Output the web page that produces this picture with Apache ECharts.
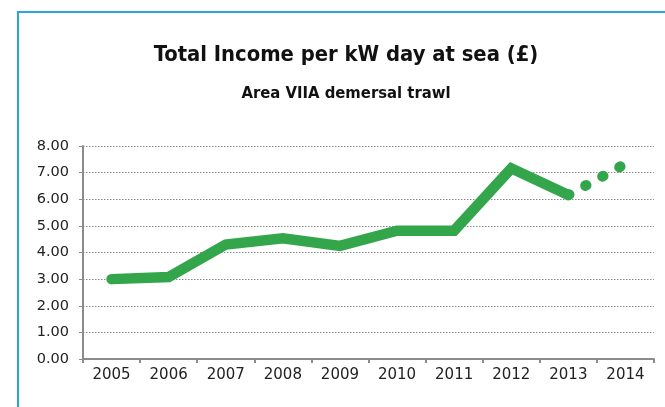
<!DOCTYPE html>
<html>
<head>
<meta charset="utf-8">
<script src="https://cdn.jsdelivr.net/npm/echarts@6/dist/echarts.min.js"></script>
<style>
  html, body { margin: 0; padding: 0; background: #fff; }
  #chart { width: 665px; height: 407px; }
</style>
</head>
<body>
<div id="chart"></div>
<script>
// data
const years = ['2005', '2006', '2007', '2008', '2009', '2010', '2011', '2012', '2013', '2014'];
const income = [3.00, 3.08, 4.30, 4.53, 4.25, 4.82, 4.82, 7.16, 6.16, null];
// 2014 is drawn as a dotted continuation from 2013
const forecast = [null, null, null, null, null, null, null, null, 6.16, 7.33];
const yTicks = [0, 1, 2, 3, 4, 5, 6, 7, 8];

const green = '#33a64c';
const gray = '#8c8c8c';
const labelFont = 'DejaVu Sans';
const titleFont = '"DejaVu Sans Condensed", Roboto, sans-serif';

const chart = echarts.init(document.getElementById('chart'), null, { renderer: 'canvas' });

chart.setOption({
  animation: false,
  graphic: [
    {
      type: 'rect',
      shape: { x: 18, y: 12, width: 700, height: 500 },
      style: { fill: 'none', stroke: '#2aa7d4', lineWidth: 2 },
      silent: true
    },
    // titles are centred on the framed box, not the whole canvas
    {
      type: 'text',
      x: 346, y: 44,
      style: {
        text: 'Total Income per kW day at sea (£)',
        align: 'center', verticalAlign: 'top',
        font: 'bold 21.8px ' + titleFont, fill: '#111'
      }
    },
    {
      type: 'text',
      x: 346, y: 85,
      style: {
        text: 'Area VIIA demersal trawl',
        align: 'center', verticalAlign: 'top',
        font: 'bold 16.5px ' + titleFont, fill: '#111'
      }
    }
  ],
  grid: { left: 83, right: 11, top: 146, bottom: 48, containLabel: false },
  xAxis: {
    type: 'category',
    data: years,
    boundaryGap: true,
    axisLine: { lineStyle: { color: gray, width: 2 } },
    axisTick: { show: true, alignWithLabel: false, length: 4, lineStyle: { color: gray, width: 2 } },
    axisLabel: { fontFamily: labelFont, fontSize: 15, color: '#222', margin: 9 }
  },
  yAxis: {
    type: 'value',
    min: yTicks[0],
    max: yTicks[yTicks.length - 1],
    interval: 1,
    axisLine: { show: true, lineStyle: { color: gray, width: 2 } },
    axisTick: { show: true, length: 4, lineStyle: { color: gray, width: 1 } },
    axisLabel: {
      fontFamily: labelFont, fontSize: 14.5, color: '#222', margin: 14,
      formatter: v => v.toFixed(2)
    },
    splitLine: { show: true, lineStyle: { color: '#8a8a8a', width: 1, type: [1.5, 1.5] } }
  },
  series: [
    {
      type: 'line',
      data: income,
      symbol: 'none',
      connectNulls: false,
      lineStyle: { color: green, width: 10.5, cap: 'round', join: 'miter' },
      z: 3
    },
    {
      type: 'line',
      data: forecast,
      symbol: 'none',
      lineStyle: { color: green, width: 10.5, cap: 'round', type: [1, 18.4] },
      z: 2
    }
  ]
});
</script>
</body>
</html>
